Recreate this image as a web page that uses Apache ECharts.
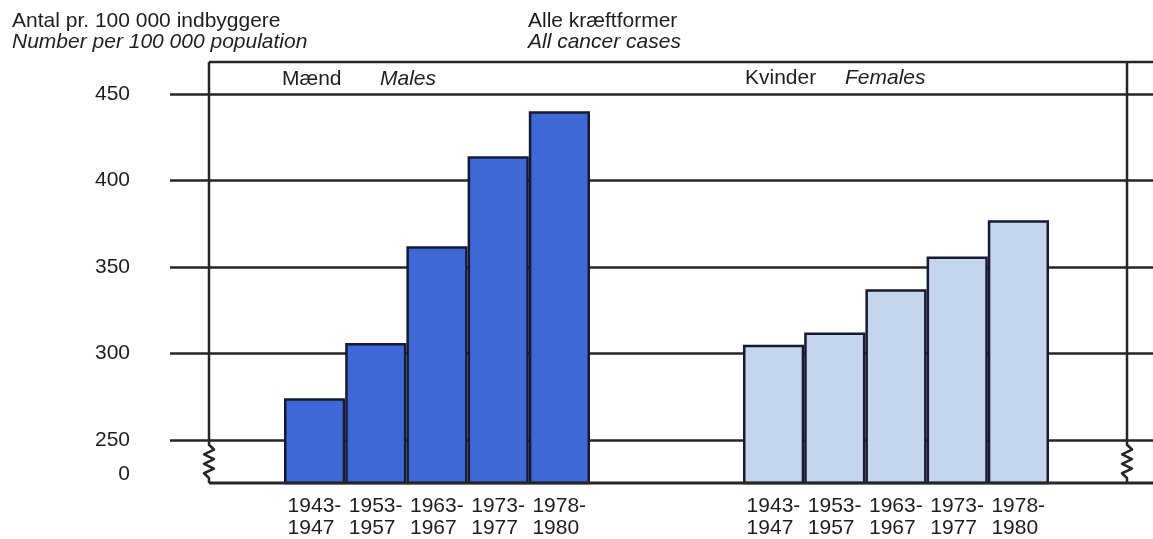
<!DOCTYPE html>
<html><head><meta charset="utf-8">
<script src="https://cdn.jsdelivr.net/npm/echarts@6/dist/echarts.min.js"></script>
<style>html,body{margin:0;padding:0;background:#fff}#c{width:1153px;height:539px}</style>
</head><body><div id="c"></div>
<script>
// ---- data ----
const periods = ['1943-\n1947', '1953-\n1957', '1963-\n1967', '1973-\n1977', '1978-\n1980'];
const males = [274, 306, 362, 414, 440];
const females = [305, 312, 337, 356, 377];
const yTicks = [250, 300, 350, 400, 450];
const zeroTickLabel = '0';

// ---- layout / style ----
const FONT = 'Liberation Sans';
const TXT = '#1e1e1e';
const LINE = '#262626';
const yMin = 225, yMax = 468.5, zeroLabelAt = 230;
const gridTop = 62, gridBottom = 56;
const frameLeft = 209, frameRight = 1127;
const W = 1153;

const chart = echarts.init(document.getElementById('c'), null, {renderer: 'canvas'});

function ttl(text, left, top, italic, sub) {
  const t = {
    text: text, left: left, top: top, padding: 0, itemGap: 0,
    textStyle: {fontFamily: FONT, fontSize: 21, fontWeight: 'normal', color: TXT, lineHeight: 20,
      fontStyle: italic ? 'italic' : 'normal'}
  };
  if (sub) {
    t.subtext = sub;
    t.subtextStyle = {fontFamily: FONT, fontSize: 21, fontStyle: 'italic', color: TXT, lineHeight: 20};
  }
  return t;
}

const hiddenY = (i) => ({type: 'value', gridIndex: i, min: yMin, max: yMax, show: false});
const barX = (i) => ({
  type: 'category', gridIndex: i, data: periods,
  axisLine: {show: false}, axisTick: {show: false}, splitLine: {show: false},
  axisLabel: {
    fontFamily: FONT, fontSize: 21, lineHeight: 22, color: TXT, margin: 12, interval: 0,
    formatter: (v) => v.split('\n').map((s) => '{p|' + s + '}').join('\n'),
    rich: {p: {fontFamily: FONT, fontSize: 21, lineHeight: 22, color: TXT, width: 54, align: 'left'}}
  }
});
const barStyle = (fill) => ({color: fill, borderColor: '#161a30', borderWidth: 2.5});

const option = {
  backgroundColor: '#ffffff',
  animation: false,
  title: [
    ttl('Antal pr. 100 000 indbyggere', 12, 11.5, false, 'Number per 100 000 population'),
    ttl('Alle kræftformer', 528, 11.5, false, 'All cancer cases'),
    ttl('Mænd', 282, 69, false),
    ttl('Males', 380, 69, true),
    ttl('Kvinder', 745, 68, false),
    ttl('Females', 845, 68, true)
  ],
  grid: [
    {left: 170, right: 0, top: gridTop, bottom: gridBottom},
    {left: 284, width: 306, top: gridTop, bottom: gridBottom},
    {left: 743, width: 306, top: gridTop, bottom: gridBottom}
  ],
  xAxis: [
    {type: 'value', gridIndex: 0, min: 0, max: 1, show: false},
    barX(1),
    barX(2)
  ],
  yAxis: [
    {
      type: 'value', gridIndex: 0, min: yMin, max: yMax,
      axisLine: {show: false}, axisTick: {show: false}, splitLine: {show: false},
      axisLabel: {
        show: true, margin: 40, fontFamily: FONT, fontSize: 21, color: TXT,
        customValues: [zeroLabelAt].concat(yTicks),
        formatter: (v) => (v === zeroLabelAt ? zeroTickLabel : String(v))
      }
    },
    hiddenY(1),
    hiddenY(2)
  ],
  series: [
    {
      type: 'scatter', xAxisIndex: 0, yAxisIndex: 0, data: [], z: 1, silent: true,
      markLine: {
        silent: true, symbol: ['none', 'none'], animation: false,
        label: {show: false},
        lineStyle: {color: LINE, width: 2.5, type: 'solid'},
        data: yTicks.map((v) => ({yAxis: v}))
      }
    },
    {
      name: 'Mænd', type: 'bar', xAxisIndex: 1, yAxisIndex: 1, data: males,
      barCategoryGap: '0%', z: 5, itemStyle: barStyle('#3e68d6')
    },
    {
      name: 'Kvinder', type: 'bar', xAxisIndex: 2, yAxisIndex: 2, data: females,
      barCategoryGap: '0%', z: 5, itemStyle: barStyle('#c6d5ee')
    }
  ]
};
chart.setOption(option);

// frame with broken-axis zigzags, placed with the y scale
const yPix = (v) => chart.convertToPixel({yAxisIndex: 0}, v);
const yTop = yPix(yMax);
const yBase = yPix(yMin);
const y250 = yPix(yTicks[0]);
function zigzagLine(x) {
  const pts = [[x, yTop], [x, y250 + 5]];
  const zStart = y250 + 5, zEnd = yBase - 5, n = 7;
  for (let i = 1; i < n; i++) {
    pts.push([x + (i % 2 ? 5 : -5), zStart + (zEnd - zStart) * i / n]);
  }
  pts.push([x, zEnd], [x, yBase]);
  return pts;
}
const frameStyle = {stroke: LINE, lineWidth: 2.5, fill: null, lineJoin: 'round'};
chart.setOption({
  graphic: [
    {type: 'polyline', shape: {points: [[frameLeft, yTop], [W, yTop]]}, style: frameStyle, z: 10, silent: true},
    {type: 'polyline', shape: {points: [[frameLeft, yBase], [W, yBase]]}, style: Object.assign({}, frameStyle, {lineWidth: 3}), z: 10, silent: true},
    {type: 'polyline', shape: {points: zigzagLine(frameLeft)}, style: frameStyle, z: 10, silent: true},
    {type: 'polyline', shape: {points: zigzagLine(frameRight)}, style: frameStyle, z: 10, silent: true}
  ]
});
</script>
</body></html>
